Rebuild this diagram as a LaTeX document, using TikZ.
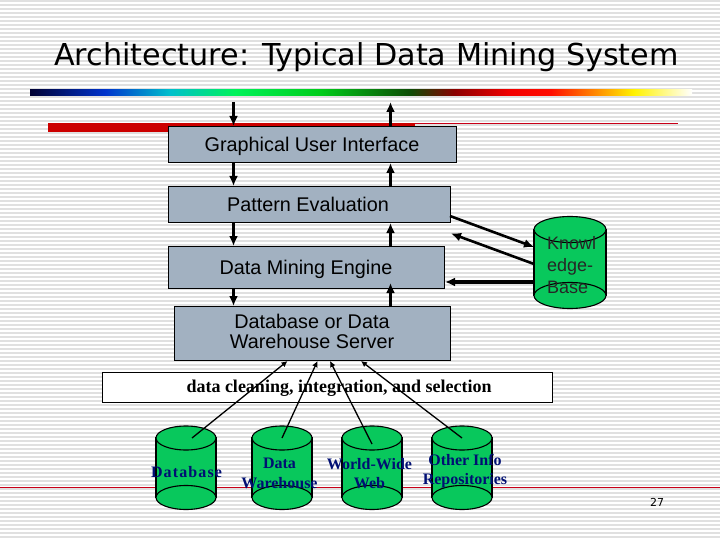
\documentclass[tikz,border=0pt]{standalone}
\usepackage{fontspec}
\setmainfont{Liberation Serif}
\newfontfamily\titlef{DejaVu Sans}
\newfontfamily\arialf{Liberation Sans}
\usetikzlibrary{arrows.meta,shapes.geometric}
\definecolor{boxgray}{HTML}{A2B1C1}
\definecolor{cylgreen}{HTML}{08C85C}
\definecolor{labblue}{HTML}{000F73}
\definecolor{stripe}{HTML}{E0E0E0}
\definecolor{barred}{HTML}{CC0000}
\definecolor{rulered}{HTML}{C80018}
\pgfdeclarehorizontalshading{rainbow}{100bp}{
  rgb(0bp)=(0,0,0.2); rgb(25bp)=(0,0,0.2); rgb(30.66bp)=(0,0.2,0.8); rgb(35.57bp)=(0,0.75,0.8);
  rgb(40.5bp)=(0,0.95,0.35); rgb(47bp)=(0,0.8,0.1); rgb(53.7bp)=(0.05,0.3,0.02); rgb(57.1bp)=(0.55,0,0);
  rgb(61.25bp)=(0.95,0,0); rgb(64.3bp)=(1,0.05,0); rgb(70.6bp)=(1,0.95,0); rgb(75bp)=(1,1,1); rgb(100bp)=(1,1,1)}
\tikzset{
  x=1pt,y=-1pt,
  box/.style={draw=black,line width=0.7pt,fill=boxgray,inner sep=0pt},
  boxtext/.style={font=\arialf\fontsize{19.8}{20}\selectfont,align=center,inner sep=0pt,text height=14.3pt,text depth=0pt},
  updown/.style={line width=3pt,-{Latex[length=10pt,width=9pt]}},
  thin arrow/.style={line width=1.3pt,-{Latex[length=6pt,width=6pt]}},
  kb arrow/.style={line width=2.6pt,-{Latex[length=10pt,width=9pt]}},
  can/.style={draw=black,line width=1.1pt,fill=cylgreen},
  canlabel/.style={font=\bfseries\fontsize{16}{19.5}\selectfont,text=labblue,align=center,inner sep=0pt},
}
% cylinder: left x, top ellipse centre y, width, bottom ellipse centre y, y radius
\newcommand{\drawcan}[5]{
  \draw[can] (#1,#2) rectangle (#1+#3,#4);
  \draw[can] (#1+#3/2,#2) ellipse[x radius=#3/2,y radius=#5];
  \draw[can] (#1+#3/2,#4) ellipse[x radius=#3/2,y radius=#5];
}
\begin{document}
\begin{tikzpicture}
\useasboundingbox (0,0) rectangle (720,540);
\fill[white] (0,0) rectangle (720,540);
% striped slide background
\foreach \k in {0,...,134}
  \fill[stripe] (0,{\k*4+0.4}) rectangle (720,{\k*4+1.6});
% title
\node[anchor=base west,inner sep=0pt,font=\titlef\fontsize{30.2}{34}\selectfont] (title) at (54,65.5) {Architecture: Typical Data Mining System};
% rainbow rule
\shade[shading=rainbow] (30,90) rectangle (692,96);
% red rule
\fill[barred] (48,123) rectangle (415,132);
\draw[rulered,line width=0.9pt] (415,123.5) -- (678,123.5);
\draw[rulered,line width=0.9pt] (0,487) -- (720,487);
% boxes
\node[box,minimum width=288pt,minimum height=36pt] (gui) at (312.5,144.5) {};
\node[boxtext] (guitext) at (312,144.5) {Graphical User Interface};
\node[box,minimum width=282pt,minimum height=36pt] (pat) at (309.5,204.5) {};
\node[boxtext] (pattext) at (308,204.5) {Pattern Evaluation};
\node[box,minimum width=276pt,minimum height=42pt] (eng) at (306.5,267.5) {};
\node[boxtext] (engtext) at (306,267.5) {Data Mining Engine};
\node[box,minimum width=276pt,minimum height=54pt] (srv) at (312.5,333.5) {};
\node[boxtext,text height=,text depth=] (srvtext) at (312,331) {Database or Data\\Warehouse Server};
\node[draw=black,line width=0.7pt,fill=white,minimum width=450pt,minimum height=30pt,inner sep=0pt] (clean) at (327.5,387.5) {};
% cylinders
\drawcan{156}{438}{60}{497.5}{12}
\drawcan{252}{438}{60}{497.5}{12}
\drawcan{342}{438}{60}{497.5}{12}
\drawcan{432}{438}{60}{497.5}{12}
\drawcan{534}{229.5}{72}{295.5}{13}
\node[anchor=base,inner sep=0pt,font=\bfseries\fontsize{18}{20}\selectfont] (cleantext) at (339,392.5) {data cleaning, integration, and selection};
% arrow anchors
\coordinate (a1) at (233.5,102);
\coordinate (a2) at (390.5,102);
\coordinate (guiL) at (233.5,126);
\coordinate (guiR) at (390.5,126);
\coordinate (guiLb) at (233.5,163);
\coordinate (guiRb) at (390.5,163);
\coordinate (patLt) at (233.5,186);
\coordinate (patRt) at (390.5,186);
\coordinate (patLb) at (233.5,223);
\coordinate (patRb) at (390.5,223);
\coordinate (engLt) at (233.5,246);
\coordinate (engRt) at (390.5,246);
\coordinate (engLb) at (233.5,289);
\coordinate (engRb) at (390.5,283);
\coordinate (srvLt) at (233.5,306);
\coordinate (srvRt) at (390.5,306);
\draw[updown] (a1) -- (guiL);
\draw[updown] (guiR) -- (a2);
\draw[updown] (guiLb) -- (patLt);
\draw[updown] (patRt) -- (guiRb);
\draw[updown] (patLb) -- (engLt);
\draw[updown] (engRt) -- (patRb);
\draw[updown] (engLb) -- (srvLt);
\draw[updown] (srvRt) -- (engRb);
% knowledge base arrows
\coordinate (k1) at (450,216);
\coordinate (k2) at (534,247);
\coordinate (k3) at (534,264);
\coordinate (k4) at (451,233.5);
\coordinate (k5) at (534,282);
\coordinate (k6) at (445,282);
\draw[kb arrow] (k1) -- (k2);
\draw[kb arrow] (k3) -- (k4);
\draw[kb arrow,line width=3.2pt] (k5) -- (k6);
% source arrows
\coordinate (d1) at (192,438);
\coordinate (d2) at (282,438);
\coordinate (d3) at (372,444);
\coordinate (d4) at (462,438);
\coordinate (s1) at (287.5,361);
\coordinate (s2) at (317.5,361);
\coordinate (s3) at (330,361);
\coordinate (s4) at (361,361);
\draw[thin arrow] (d1) -- (s1);
\draw[thin arrow] (d2) -- (s2);
\draw[thin arrow] (d3) -- (s3);
\draw[thin arrow] (d4) -- (s4);
% labels
\node[canlabel,font=\bfseries\fontsize{16}{19}\selectfont\addfontfeature{LetterSpace=7}] (l1) at (186.5,472) {Database};
\node[canlabel] (l2) at (279.5,473.5) {Data\\Warehouse};
\node[canlabel] (l3) at (369.5,473.5) {World-Wide\\Web};
\node[canlabel] (l4) at (465,471) {Other Info\\Repositories};
\node[font=\arialf\fontsize{18}{22}\selectfont,align=left,inner sep=0pt,anchor=west,text=black!85] (kb) at (547,265) {Knowl\\edge-\\Base};
\node[inner sep=0pt,font=\titlef\fontsize{11}{13}\selectfont] (page) at (657,502) {27};
\end{tikzpicture}
\end{document}
